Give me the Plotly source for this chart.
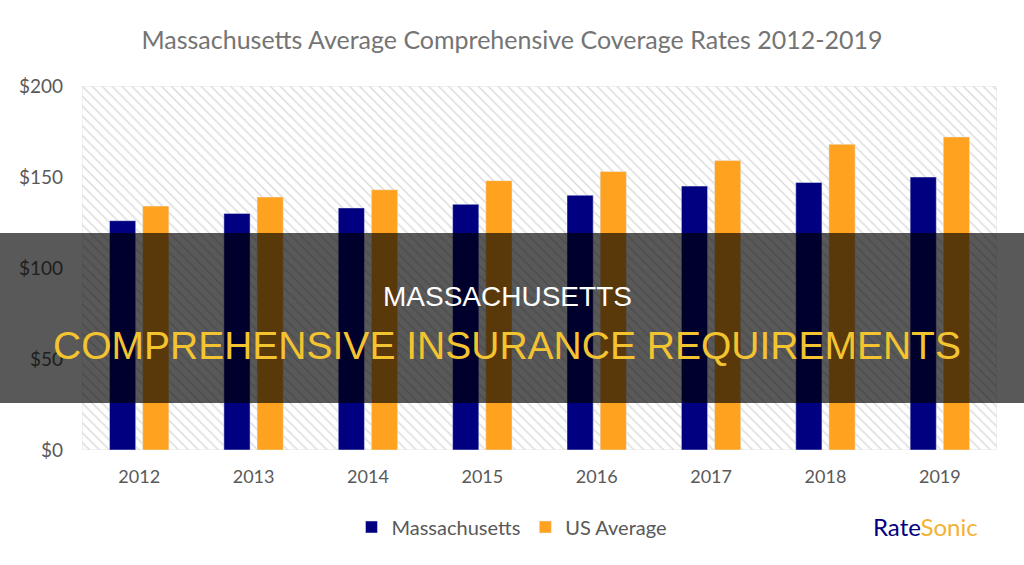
import plotly.graph_objects as go

years = ["2012", "2013", "2014", "2015", "2016", "2017", "2018", "2019"]
massachusetts = [126, 130, 133, 135, 140, 145, 147, 150]
us_average = [134, 139, 143, 148, 153, 159, 168, 172]
y_ticks = [0, 50, 100, 150, 200]
y_tick_labels = ["$0", "$50", "$100", "$150", "$200"]

NAVY = "#000080"
ORANGE = "#FFA21F"

fig = go.Figure()

# hatched plot background
fig.add_trace(go.Bar(
    x=[0.5], y=[200], width=[1], xaxis="x", yaxis="y",
    marker=dict(color="white", line=dict(width=1, color="#e3e3e3"),
                pattern=dict(shape="\\", fgcolor="#b9b9b9", bgcolor="white", size=7, solidity=0.22)),
    showlegend=False, hoverinfo="skip",
))

fig.add_trace(go.Bar(name="Massachusetts", x=years, y=massachusetts, marker_color=NAVY,
                     xaxis="x2", yaxis="y"))
fig.add_trace(go.Bar(name="US Average", x=years, y=us_average, marker_color=ORANGE,
                     xaxis="x2", yaxis="y"))

fig.update_layout(
    width=1024, height=565,
    margin=dict(l=82, r=27, t=86, b=115, autoexpand=False),
    paper_bgcolor="white", plot_bgcolor="white",
    barmode="group", bargap=0.42, bargroupgap=0.21,
    title=dict(text="Massachusetts Average Comprehensive Coverage Rates 2012-2019",
               x=0.5, xref="container", xanchor="center", y=0.928, yanchor="middle",
               font=dict(family="Lato", size=25, color="#747474")),
    xaxis=dict(range=[0, 1], visible=False, fixedrange=True),
    xaxis2=dict(overlaying="x", side="bottom", showgrid=False, showline=False,
                tickfont=dict(family="Lato", size=18, color="#595959"), ticks="", ticklabelstandoff=14),
    yaxis=dict(range=[0, 200], tickvals=y_ticks, ticktext=y_tick_labels,
               tickfont=dict(family="Lato", size=19, color="#595959"),
               showgrid=True, gridcolor="#8a8a8a", griddash="dot", gridwidth=1,
               zeroline=False, ticks="", ticklabelstandoff=18),
    legend=dict(orientation="h", xref="container", x=0.5, xanchor="center",
                y=-0.2115, yanchor="middle",
                font=dict(family="Lato", size=20, color="#595959"),
                traceorder="normal"),
    showlegend=True,
)

# dark banner overlay
fig.add_shape(type="rect", xref="paper", yref="paper",
              x0=-0.1, x1=1.04, y0=0.129, y1=0.596,
              fillcolor="rgba(0,0,0,0.65)", line=dict(width=0), layer="above")

fig.add_annotation(text="MASSACHUSETTS", xref="paper", yref="paper", x=0.4645, y=0.423,
                   xanchor="center", yanchor="middle", showarrow=False,
                   font=dict(family="Liberation Sans", size=28, color="white"))
fig.add_annotation(text="COMPREHENSIVE INSURANCE REQUIREMENTS", xref="paper", yref="paper",
                   x=0.4645, y=0.286, xanchor="center", yanchor="middle", showarrow=False,
                   font=dict(family="Liberation Sans", size=39, color="#F4C430"))
fig.add_annotation(text="<span style='color:#000080'>Rate</span><span style='color:#F2B233'>Sonic</span>",
                   xref="paper", yref="paper", x=0.922, y=-0.2115,
                   xanchor="center", yanchor="middle", showarrow=False,
                   font=dict(family="Lato", size=24))

fig.write_html("out.html", config={"displayModeBar": False},
               post_script="document.body.style.margin='0px';")
